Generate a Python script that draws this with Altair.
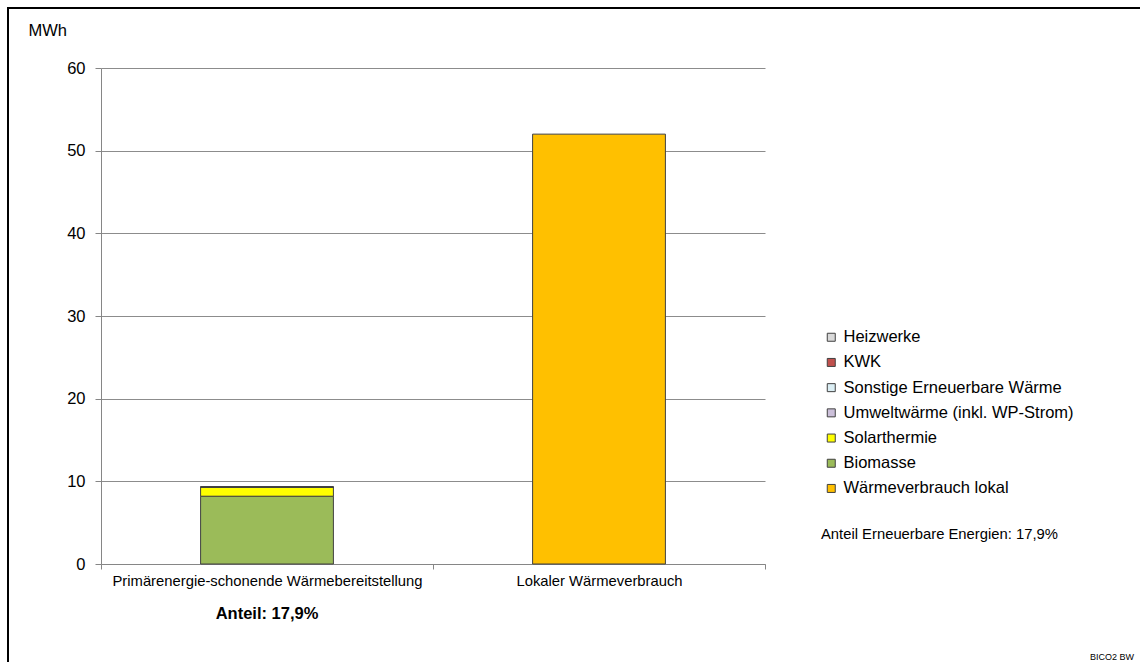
import altair as alt
import pandas as pd

categories = ["Primärenergie-schonende  Wärmebereitstellung", "Lokaler Wärmeverbrauch"]
series = ["Heizwerke", "KWK", "Sonstige Erneuerbare Wärme", "Umweltwärme (inkl. WP-Strom)",
          "Solarthermie", "Biomasse", "Wärmeverbrauch lokal"]
colors = ["#d9d9d9", "#c0504d", "#dbeef4", "#ccc0da", "#ffff00", "#9bbb59", "#ffc000"]
# stacking order bottom -> top
stack_order = {"Biomasse": 0, "Solarthermie": 1, "Umweltwärme (inkl. WP-Strom)": 2,
               "Sonstige Erneuerbare Wärme": 3, "KWK": 4, "Heizwerke": 5, "Wärmeverbrauch lokal": 0}

cat1_values = {"Biomasse": 8.2, "Solarthermie": 1.1, "Umweltwärme (inkl. WP-Strom)": 0.0,
               "Sonstige Erneuerbare Wärme": 0.0, "KWK": 0.0, "Heizwerke": 0.0}
cat2_values = {"Wärmeverbrauch lokal": 52.0}

share_text = "Anteil: 17,9%"
note_text = "Anteil Erneuerbare Energien: 17,9%"
source_text = "BICO2 BW"

rows = []
for s, v in cat1_values.items():
    rows.append({"cat": categories[0], "series": s, "value": v, "ord": stack_order[s]})
for s, v in cat2_values.items():
    rows.append({"cat": categories[1], "series": s, "value": v, "ord": stack_order[s]})
df = pd.DataFrame(rows)

FONT = "Liberation Sans"
W, H = 664, 496
PL, PT = 101, 68
TOTAL_W, TOTAL_H = 1140, 662

xscale = alt.Scale(domain=categories, paddingInner=0, paddingOuter=0)

bars = alt.Chart(df).mark_bar(
    width=alt.RelativeBandSize(0.4), stroke="#404040", strokeWidth=1
).encode(
    x=alt.X("cat:N", scale=xscale, sort=categories,
            axis=alt.Axis(title=None, labelAngle=0, labelFontSize=14.8, labelFont=FONT,
                          labelColor="#000000", domainColor="#868686", tickColor="#868686",
                          tickSize=5, labelPadding=4, tickBand="extent", grid=False,
                          labelLimit=600)),
    y=alt.Y("value:Q", stack="zero",
            scale=alt.Scale(domain=[0, 60], nice=False),
            axis=alt.Axis(values=[0, 10, 20, 30, 40, 50, 60], title="MWh", titleAngle=0,
                          titleX=-73, titleY=-38, titleAlign="left", titleBaseline="middle",
                          titleFont=FONT, titleFontSize=16.5, titleFontWeight="normal",
                          titleColor="#000000",
                          labelFont=FONT, labelFontSize=16.5, labelColor="#000000",
                          labelPadding=10, tickSize=6, tickColor="#868686",
                          domainColor="#868686", gridColor="#8c8c8c", grid=True)),
    color=alt.Color("series:N", scale=alt.Scale(domain=series, range=colors),
                    legend=alt.Legend(orient="none", legendX=722, legendY=261, title=None,
                                      symbolType="square", symbolSize=64,
                                      symbolStrokeColor="#404040", symbolStrokeWidth=1,
                                      labelFont=FONT, labelFontSize=16.5, labelColor="#000000",
                                      labelOffset=4, rowPadding=8.2, padding=0,
                                      labelLimit=400, symbolOpacity=1)),
    order=alt.Order("ord:Q"),
)

share = alt.Chart(pd.DataFrame({"cat": [categories[0]], "t": [share_text]})).mark_text(
    font=FONT, fontSize=16.5, fontWeight="bold", color="#000000", align="center", baseline="middle"
).encode(x=alt.X("cat:N", scale=xscale, sort=categories), y=alt.value(546), text="t:N")

note = alt.Chart(pd.DataFrame({"t": [note_text]})).mark_text(
    font=FONT, fontSize=14.8, color="#000000", align="left", baseline="middle"
).encode(x=alt.value(720), y=alt.value(467), text="t:N")

source = alt.Chart(pd.DataFrame({"t": [source_text]})).mark_text(
    font=FONT, fontSize=9, color="#000000", align="left", baseline="middle"
).encode(x=alt.value(989), y=alt.value(589), text="t:N")

frame_top = alt.Chart(pd.DataFrame({"a": [0]})).mark_rule(
    stroke="#000000", strokeWidth=2
).encode(x=alt.value(-94), x2=alt.value(1100), y=alt.value(-60))

frame_left = alt.Chart(pd.DataFrame({"a": [0]})).mark_rule(
    stroke="#000000", strokeWidth=2
).encode(x=alt.value(-93), y=alt.value(-61), y2=alt.value(650))

chart = alt.layer(frame_top, frame_left, bars, share, note, source).properties(
    width=W, height=H,
    autosize=alt.AutoSizeParams(type="none"),
    padding={"left": PL, "top": PT, "right": TOTAL_W - PL - W, "bottom": TOTAL_H - PT - H},
    background="#ffffff",
).configure_view(stroke=None)

chart.save("out.html", embed_options={"renderer": "svg", "actions": False})
